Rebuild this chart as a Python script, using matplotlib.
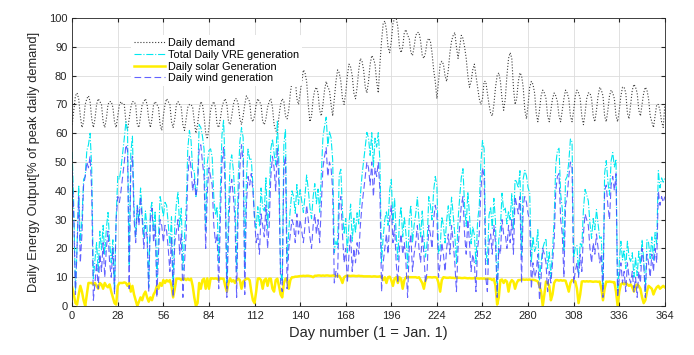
import matplotlib
matplotlib.use('Agg')
import matplotlib.pyplot as plt
import numpy as np

plt.rcParams['font.family'] = ['Liberation Sans', 'DejaVu Sans']

# daily demand, % of peak daily demand (day 0..364)
demand = [
    63, 68, 73, 74, 72, 66, 62, 64, 70, 72, 73, 71, 65, 62,
    65, 70, 72, 71, 70, 64, 62, 65, 70, 71, 71, 69, 64, 62,
    66, 70, 71, 70, 70, 64, 61, 65, 69, 71, 71, 70, 63, 62,
    66, 70, 71, 72, 70, 65, 62, 65, 70, 71, 70, 69, 63, 61,
    66, 70, 72, 71, 70, 64, 62, 65, 70, 71, 70, 69, 63, 61,
    65, 69, 70, 70, 69, 64, 60, 63, 68, 71, 70, 66, 60, 58,
    62, 68, 70, 71, 69, 63, 62, 65, 69, 71, 72, 70, 64, 63,
    66, 70, 72, 72, 70, 65, 63, 66, 70, 73, 72, 71, 65, 64,
    66, 70, 72, 71, 70, 64, 63, 65, 69, 71, 72, 69, 63, 61,
    60, 66, 70, 72, 71, 66, 65, 68, 74, 78, 80, 79, 72, 70,
    74, 78, 82, 81, 78, 70, 64, 66, 72, 75, 76, 74, 68, 66,
    70, 75, 78, 76, 75, 70, 66, 72, 78, 82, 81, 78, 72, 70,
    74, 80, 84, 83, 80, 74, 72, 76, 82, 86, 85, 82, 76, 74,
    78, 84, 87, 86, 84, 78, 74, 84, 92, 98, 99, 96, 90, 88,
    92, 98, 100, 100, 97, 90, 88, 90, 95, 96, 94, 93, 88, 87,
    90, 94, 95, 95, 92, 87, 86, 88, 92, 93, 92, 88, 82, 78,
    72, 78, 84, 85, 84, 80, 78, 82, 88, 92, 94, 95, 90, 86,
    90, 94, 93, 90, 86, 80, 76, 78, 82, 84, 80, 76, 72, 70,
    72, 78, 78, 74, 70, 67, 66, 70, 76, 80, 81, 78, 72, 68,
    72, 80, 86, 88, 86, 76, 70, 72, 78, 81, 80, 76, 68, 65,
    70, 76, 78, 77, 74, 67, 64, 68, 73, 75, 74, 72, 66, 64,
    68, 72, 74, 73, 71, 66, 64, 68, 72, 75, 74, 72, 66, 64,
    68, 73, 75, 74, 72, 66, 63, 67, 72, 74, 74, 72, 66, 64,
    68, 73, 76, 75, 73, 66, 64, 68, 73, 75, 74, 72, 66, 64,
    68, 73, 76, 76, 74, 67, 65, 70, 75, 77, 76, 74, 68, 66,
    70, 74, 76, 75, 72, 66, 64, 62, 66, 70, 70, 68, 64, 62,
    70,
]

# daily wind generation
wind = [
    47, 30, 4, 20, 38, 15, 25, 42, 45, 50, 48, 52, 40, 2,
    8, 15, 6, 18, 12, 22, 10, 20, 26, 15, 10, 20, 4, 30,
    38, 36, 40, 45, 50, 56, 54, 6, 48, 52, 30, 22, 35, 28,
    38, 30, 20, 28, 24, 5, 30, 34, 22, 28, 3, 18, 30, 28,
    22, 28, 26, 20, 12, 24, 3, 22, 26, 30, 18, 25, 3, 15,
    25, 45, 52, 48, 40, 44, 38, 42, 55, 56, 50, 45, 20, 40,
    48, 45, 42, 28, 22, 25, 6, 30, 50, 55, 40, 3, 25, 40,
    44, 38, 30, 3, 35, 48, 56, 50, 4, 35, 45, 42, 46, 40,
    30, 22, 25, 18, 32, 28, 24, 35, 20, 28, 45, 52, 48, 40,
    55, 42, 8, 5, 48, 52, 6, 20, 25, 30, 28, 22, 32, 25,
    30, 26, 22, 28, 35, 30, 24, 20, 28, 32, 25, 30, 22, 35,
    48, 52, 55, 45, 50, 48, 40, 8, 12, 10, 35, 38, 25, 15,
    20, 8, 18, 25, 12, 20, 15, 22, 18, 28, 35, 40, 45, 50,
    48, 42, 50, 38, 48, 45, 50, 40, 5, 15, 20, 25, 18, 30,
    35, 22, 28, 15, 8, 20, 25, 18, 22, 15, 3, 20, 25, 12,
    18, 22, 28, 20, 15, 25, 18, 8, 12, 28, 25, 20, 30, 35,
    32, 10, 15, 22, 18, 12, 20, 25, 18, 28, 22, 15, 5, 20,
    28, 35, 38, 25, 18, 30, 22, 12, 18, 15, 5, 20, 25, 40,
    48, 45, 10, 5, 22, 25, 18, 28, 22, 3, 20, 18, 30, 25,
    25, 20, 28, 22, 30, 18, 38, 35, 32, 38, 8, 35, 38, 36,
    32, 30, 6, 15, 10, 12, 18, 2, 10, 20, 18, 15, 5, 12,
    8, 15, 22, 40, 45, 46, 30, 25, 10, 35, 38, 45, 50, 48,
    8, 12, 15, 10, 18, 12, 25, 32, 30, 28, 20, 15, 22, 18,
    25, 20, 15, 18, 3, 40, 42, 35, 30, 42, 45, 40, 46, 3,
    10, 15, 8, 12, 5, 15, 10, 8, 12, 5, 10, 3, 12, 8,
    20, 15, 3, 18, 15, 10, 18, 12, 20, 15, 40, 35, 38, 36,
    38,
]

# daily solar generation
solar = [
    6.5, 4, 1, 0.5, 4, 7, 5, 2, 0, 4, 8, 8, 8, 7.5,
    8, 7, 6, 8, 7.5, 6, 8, 7, 6.5, 7.5, 5, 3, 1, 0.5,
    7, 8, 8, 8, 8.2, 8, 7, 8, 5, 7, 4, 2, 0, 1.5,
    3, 2, 4, 5, 3, 1.5, 3, 2, 4, 5, 7, 6, 8, 7,
    9, 8, 9, 8.5, 9, 7, 3, 6, 9.5, 9.5, 9.5, 9, 9.5, 9.5,
    9, 9.5, 9, 9.5, 7, 3, 0, 1, 8, 6, 9, 9.5, 6, 9.6,
    6, 9.6, 9.6, 9.5, 9.6, 9.5, 9, 9.6, 9.5, 9.5, 7, 5, 8, 9.6,
    8.5, 9, 8, 9, 9.5, 9, 6, 8.5, 9, 9.5, 9.5, 9, 5, 2,
    1, 5, 9.5, 9.6, 9, 6, 9, 9.5, 7, 9.5, 9.5, 6, 5, 9,
    9.5, 7, 4, 3, 8, 9.5, 9.5, 6, 9, 10, 10, 10.2, 10.2, 10.3,
    10.4, 10.4, 10.5, 10.4, 10.5, 10.5, 10.4, 10.3, 10, 10.5, 10.5, 10.6, 10.6, 10.5,
    10.6, 10.5, 10.6, 10.6, 10.5, 10.5, 10.6, 10.5, 10.5, 10.4, 10.5, 9.5, 8, 10,
    10.4, 10.5, 10.5, 10.4, 10.5, 10.5, 10.4, 10.4, 10.5, 10.4, 10.4, 10.3, 10.3, 10.3,
    10.3, 10.3, 10.2, 10.3, 10.3, 10.2, 10.2, 10.3, 10, 9, 10, 8, 10, 10.2,
    9, 7, 9.5, 10, 8, 10, 9.5, 6, 9, 10, 10.1, 10, 10, 10,
    10, 10, 9.8, 10, 9, 8, 6, 9, 10, 10, 10, 9.9, 10, 10,
    9.8, 8, 5, 9, 10, 9.9, 9.8, 9.8, 9.9, 9.8, 9.8, 9.7, 9.8, 9.8,
    9.8, 9.7, 9.7, 9.8, 9.7, 9.6, 9.7, 9.6, 9.6, 9.7, 9.6, 9.6, 9.5, 9.6,
    9.5, 9.6, 9.4, 9.5, 9.5, 9.4, 9, 9.4, 7, 0.5, 3, 9, 9.2, 8,
    9, 8.5, 5, 8, 9, 8.5, 6, 8, 9, 9, 9.2, 9.2, 9.1, 9.2,
    9.1, 9.2, 9, 9.1, 9, 8.8, 8.5, 7, 5, 0, 4, 8.5, 8, 7,
    2, 4, 8, 9, 9, 8.8, 9, 8.8, 8.9, 8.8, 7, 5, 8, 9,
    8.8, 8.5, 6, 1, 4, 8.5, 8.6, 8.5, 8.6, 8.5, 8.6, 8.5, 8.4, 8.5,
    8.5, 8.4, 8.5, 6, 2, 6, 8.5, 8.4, 8.5, 8.4, 8.3, 8.3, 5, 0,
    5, 7.5, 8, 7.5, 8, 7.5, 7, 7.5, 6.5, 5, 7, 7.5, 7, 6,
    3, 1, 2, 5, 7, 6.5, 6, 4, 5.5, 6.5, 7, 6, 6.5, 7,
    6.5,
]

days = np.arange(len(demand))
vre_total = np.array(wind) + np.array(solar)

fig = plt.figure(figsize=(6.94, 3.55), dpi=100)
ax = fig.add_axes([0.104, 0.138, 0.854, 0.811])

ax.plot(days, demand, ':', color='#3a3a3a', lw=0.8, label='Daily demand')
ax.plot(days, vre_total, '-.', color='#00e8f0', lw=0.8, label='Total Daily VRE generation')
ax.plot(days, solar, '-', color='#ffee00', lw=1.8, label='Daily solar Generation')
ax.plot(days, wind, '--', color='#4848ff', lw=0.8, alpha=0.85, dashes=(6, 3),
        label='Daily wind generation')

ax.set_xlim(0, 364)
ax.set_ylim(0, 100)
ax.set_xticks(np.arange(0, 365, 28))
ax.set_yticks(np.arange(0, 101, 10))
ax.tick_params(direction='in', top=True, right=True, labelsize=8, length=3, colors='#262626')
for s in ax.spines.values():
    s.set_color('#262626')
    s.set_linewidth(0.6)
ax.grid(True, color='#dcdcdc', lw=0.6)
ax.set_axisbelow(True)

ax.set_xlabel('Day number (1 = Jan. 1)', fontsize=10.5, color='#262626', labelpad=4)
ax.set_ylabel('Daily Energy Output[% of peak daily demand]', fontsize=9.3, color='#262626',
              labelpad=6)

leg = ax.legend(loc='upper left', bbox_to_anchor=(0.09, 0.96), frameon=True, fontsize=7.8,
                handlelength=2.8, labelspacing=0.15, borderpad=0.3, handletextpad=0.3)
leg.get_frame().set_edgecolor('none')
leg.get_frame().set_facecolor('white')
leg.get_frame().set_alpha(1)

fig.savefig('out.png', dpi=100)
